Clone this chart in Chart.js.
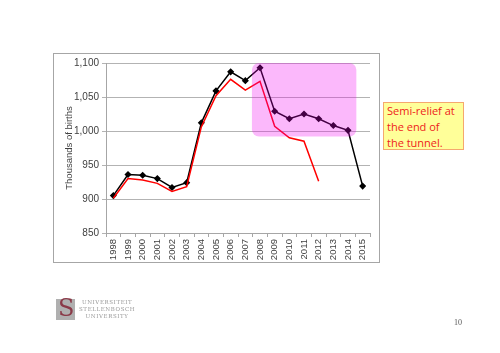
<!DOCTYPE html>
<html>
<head>
<meta charset="utf-8">
<script src="https://cdn.jsdelivr.net/npm/chart.js@4/dist/chart.umd.min.js"></script>
<style>
  html, body { margin: 0; padding: 0; background: #fff; }
  #wrap { position: relative; width: 500px; height: 353px; overflow: hidden; }
  #c { position: absolute; left: 0; top: 0; }
  #frame { position: absolute; left: 53px; top: 53px; width: 325px; height: 208px; border: 1px solid #a6a6a6; }
  #note { position: absolute; left: 383px; top: 102px; width: 76px; height: 46px; background: #ffff99; border: 1px solid #f5a86e;
          color: #ee1c1c; font-family: "Open Sans", "Liberation Sans", sans-serif; font-size: 11px; line-height: 16px; padding: 0 0 0 3px; box-sizing: content-box; }
  #note div { white-space: nowrap; }
  #logo { position: absolute; left: 56px; top: 299px; width: 19px; height: 21px; background: #b0b0b0; }
  #logo span { position: absolute; left: 2px; top: -5px; font-family: "DejaVu Serif", serif; font-size: 24px; color: #8a3a48; }
  #logotext { position: absolute; left: 79px; top: 299px; font-family: "DejaVu Serif", "Liberation Serif", serif; font-size: 5.5px; line-height: 7px; color: #999; text-align: center; letter-spacing: 0.6px; }
  #page { position: absolute; left: 454px; top: 318px; font-family: "Liberation Serif", serif; font-size: 8px; color: #555; }
</style>
</head>
<body>
<div id="wrap">
  <div id="frame"></div>
  <canvas id="c" width="500" height="353"></canvas>
  <div id="note"><div>Semi-relief at</div><div>the end of</div><div>the tunnel.</div></div>
  <div id="logo"><span>S</span></div>
  <div id="logotext">UNIVERSITEIT<br>STELLENBOSCH<br>UNIVERSITY</div>
  <div id="page">10</div>
</div>
<script>
const years = ['1998','1999','2000','2001','2002','2003','2004','2005','2006','2007','2008','2009','2010','2011','2012','2013','2014','2015'];
const blackSeries = [905, 936, 935, 930, 917, 924, 1012, 1059, 1087, 1074, 1093, 1029, 1018, 1025, 1018, 1008, 1001, 919];
const redSeries = [901, 930, 928, 923, 911, 918, 1006, 1052, 1076, 1060, 1073, 1007, 990, 985, 926, null, null, null];
const yTicks = [850, 900, 950, 1000, 1050, 1100];
const highlight = { fromIndex: 9.45, toIndex: 16.57, fromValue: 992, toValue: 1100 };

const boxPlugin = {
  id: 'box',
  afterDatasetsDraw(chart) {
    const x = chart.scales.x, y = chart.scales.y, ctx = chart.ctx;
    const l = x.getPixelForValue(highlight.fromIndex), r = x.getPixelForValue(highlight.toIndex);
    const t = y.getPixelForValue(highlight.toValue), b = y.getPixelForValue(highlight.fromValue);
    ctx.save();
    ctx.fillStyle = 'rgba(240,0,240,0.28)';
    ctx.beginPath();
    ctx.roundRect(l, t, r - l, b - t, 7);
    ctx.fill();
    ctx.restore();
  }
};

new Chart(document.getElementById('c'), {
  type: 'line',
  data: {
    labels: years,
    datasets: [
      { data: redSeries, borderColor: '#ff0000', borderWidth: 1.5, pointRadius: 0, fill: false, tension: 0 },
      { data: blackSeries, borderColor: '#000000', borderWidth: 1.5, pointStyle: 'rectRot', pointRadius: 2.5,
        pointBackgroundColor: '#000', pointBorderColor: '#000', fill: false, tension: 0 }
    ]
  },
  options: {
    responsive: false,
    animation: false,
    layout: { padding: { left: 64, top: 63, right: 130, bottom: 90 } },
    plugins: { legend: { display: false }, tooltip: { enabled: false } },
    scales: {
      x: {
        offset: true,
        grid: { display: true, offset: true, drawOnChartArea: false, drawTicks: true, tickLength: 4, color: '#a6a6a6' },
        border: { color: '#a6a6a6' },
        ticks: { minRotation: 90, maxRotation: 90, autoSkip: false, color: '#404040', font: { family: 'Liberation Sans', size: 9.5 }, padding: 2 },
        afterFit(s) { s.height = 30; }
      },
      y: {
        min: 850, max: 1100,
        afterBuildTicks(s) { s.ticks = yTicks.map(v => ({ value: v })); },
        grid: { color: '#b3b3b3', tickLength: 4 },
        border: { color: '#a6a6a6' },
        ticks: { color: '#404040', font: { family: 'Liberation Sans', size: 10 }, padding: 3 },
        title: { display: true, text: 'Thousands of births', color: '#404040', font: { family: 'Liberation Sans', size: 9.5 }, padding: 0 },
        afterFit(s) { s.width = 42; }
      }
    }
  },
  plugins: [boxPlugin]
});
</script>
</body>
</html>
